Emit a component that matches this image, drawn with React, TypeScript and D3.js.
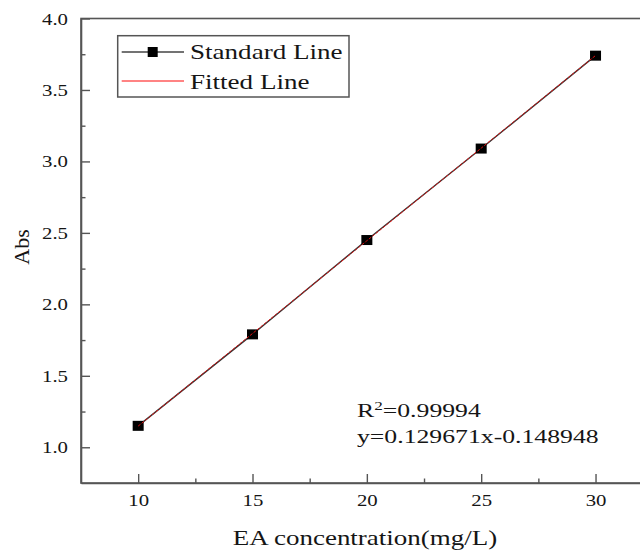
import React, { useEffect, useRef } from 'react';
import * as d3 from 'd3';

// EA concentration (mg/L) vs absorbance
const concentrations = [10, 15, 20, 25, 30];
const standardAbs = [1.15, 1.79, 2.45, 3.09, 3.74];
const fittedAbs = [1.148, 1.796, 2.445, 3.093, 3.741];

const xTicks = [10, 15, 20, 25, 30];
const xMinorTicks = [12.5, 17.5, 22.5, 27.5];
const yTicks = [1.0, 1.5, 2.0, 2.5, 3.0, 3.5, 4.0];
const yMinorTicks = [1.25, 1.75, 2.25, 2.75, 3.25, 3.75];

const legendLabels = ['Standard Line', 'Fitted Line'];
const r2Text = '=0.99994';
const equationText = 'y=0.129671x-0.148948';

const FONT = '"Liberation Serif", "Times New Roman", serif';
const AXIS_COLOR = '#555';
const TEXT_COLOR = '#151515';

const App = () => {
    const svgRef = useRef<SVGSVGElement>(null);

    useEffect(() => {
        const svg = d3.select(svgRef.current);
        svg.selectAll('*').remove();

        const width = 640;
        const height = 551;

        const x = d3.scaleLinear().domain([7.5, 32.5]).range([81, 652.7]);
        const y = d3.scaleLinear().domain([0.75, 4.0]).range([483, 18.5]);

        svg.append('rect').attr('width', width).attr('height', height).attr('fill', '#fff');

        // stretched serif text, like the original export
        const addText = (g, px, py, str, size, sx, anchor = 'start') =>
            g.append('text')
                .attr('transform', `translate(${px},${py}) scale(${sx},1)`)
                .attr('font-family', FONT)
                .attr('font-size', size)
                .attr('fill', TEXT_COLOR)
                .attr('text-anchor', anchor)
                .text(str);

        // frame
        svg.append('rect')
            .attr('x', x.range()[0])
            .attr('y', y.range()[1])
            .attr('width', x.range()[1] - x.range()[0])
            .attr('height', y.range()[0] - y.range()[1])
            .attr('fill', 'none')
            .attr('stroke', AXIS_COLOR)
            .attr('stroke-width', 1.6);

        // X axis (ticks inward)
        const xAxis = svg.append('g')
            .attr('transform', `translate(0,${y.range()[0]})`)
            .call(d3.axisBottom(x).tickValues(xTicks).tickSizeInner(-9).tickSizeOuter(0).tickFormat(d3.format('d')));
        xAxis.select('.domain').attr('stroke', AXIS_COLOR).attr('stroke-width', 1.6);
        xAxis.selectAll('line').attr('stroke', AXIS_COLOR).attr('stroke-width', 1.4);
        xAxis.selectAll('text').remove();
        xAxis.selectAll('.tick').each(function (d) {
            addText(d3.select(this), 0, 23, d3.format('d')(d), 16, 1.3, 'middle');
        });

        svg.append('g')
            .attr('transform', `translate(0,${y.range()[0]})`)
            .call(d3.axisBottom(x).tickValues(xMinorTicks).tickSizeInner(-4.5).tickSizeOuter(0).tickFormat(() => ''))
            .call(g => g.select('.domain').remove())
            .selectAll('line').attr('stroke', AXIS_COLOR).attr('stroke-width', 1.4);

        // Y axis (ticks inward)
        const yAxis = svg.append('g')
            .attr('transform', `translate(${x.range()[0]},0)`)
            .call(d3.axisLeft(y).tickValues(yTicks).tickSizeInner(-9).tickSizeOuter(0));
        yAxis.select('.domain').attr('stroke', AXIS_COLOR).attr('stroke-width', 1.6);
        yAxis.selectAll('line').attr('stroke', AXIS_COLOR).attr('stroke-width', 1.4);
        yAxis.selectAll('text').remove();
        yAxis.selectAll('.tick').each(function (d) {
            addText(d3.select(this), -13, 5.5, d3.format('.1f')(d), 16, 1.3, 'end');
        });

        svg.append('g')
            .attr('transform', `translate(${x.range()[0]},0)`)
            .call(d3.axisLeft(y).tickValues(yMinorTicks).tickSizeInner(-4.5).tickSizeOuter(0).tickFormat(() => ''))
            .call(g => g.select('.domain').remove())
            .selectAll('line').attr('stroke', AXIS_COLOR).attr('stroke-width', 1.4);

        // Axis titles
        addText(svg, 365, 545, 'EA concentration(mg/L)', 20, 1.35, 'middle');
        svg.append('text')
            .attr('transform', `translate(29,247) rotate(-90) scale(1.1,1)`)
            .attr('font-family', FONT)
            .attr('font-size', 20)
            .attr('fill', TEXT_COLOR)
            .attr('text-anchor', 'middle')
            .text('Abs');

        // Lines
        const points = concentrations.map((c, i) => [x(c), y(standardAbs[i])]);
        const fitted = concentrations.map((c, i) => [x(c), y(fittedAbs[i])]);
        const line = d3.line();

        svg.append('path')
            .attr('d', line(points))
            .attr('fill', 'none')
            .attr('stroke', '#333')
            .attr('stroke-width', 1.4);

        svg.selectAll('.marker')
            .data(points)
            .enter()
            .append('rect')
            .attr('class', 'marker')
            .attr('x', d => d[0] - 5.5)
            .attr('y', d => d[1] - 5)
            .attr('width', 11)
            .attr('height', 10)
            .attr('fill', '#000');

        svg.append('path')
            .attr('d', line(fitted))
            .attr('fill', 'none')
            .attr('stroke', '#e01010')
            .attr('stroke-width', 1)
            .attr('stroke-dasharray', '3,1.5');

        // Legend
        const legend = svg.append('g');
        legend.append('rect')
            .attr('x', 117.7).attr('y', 35.7)
            .attr('width', 231.3).attr('height', 61.3)
            .attr('fill', '#fff')
            .attr('stroke', AXIS_COLOR)
            .attr('stroke-width', 1.5);
        legend.append('line')
            .attr('x1', 121.7).attr('x2', 184).attr('y1', 52).attr('y2', 52)
            .attr('stroke', '#444').attr('stroke-width', 1.5);
        legend.append('rect')
            .attr('x', 147.7).attr('y', 47).attr('width', 10).attr('height', 10)
            .attr('fill', '#000');
        legend.append('line')
            .attr('x1', 121.7).attr('x2', 184).attr('y1', 81).attr('y2', 81)
            .attr('stroke', '#ff5a5a').attr('stroke-width', 1.5);
        addText(legend, 190, 59, legendLabels[0], 22, 1.23);
        addText(legend, 190, 89, legendLabels[1], 22, 1.23);

        // Fit annotation
        const r2 = svg.append('text')
            .attr('transform', `translate(357,417) scale(1.43,1)`)
            .attr('font-family', FONT)
            .attr('font-size', 18)
            .attr('fill', TEXT_COLOR);
        r2.append('tspan').text('R');
        r2.append('tspan').attr('font-size', 12).attr('dy', -7).text('2');
        r2.append('tspan').attr('dy', 7).text(r2Text);
        addText(svg, 357, 443, equationText, 18, 1.43);
    }, []);

    return (
        <svg
            ref={svgRef}
            width={640}
            height={551}
            style={{ position: 'absolute', left: 0, top: 0, display: 'block' }}
        />
    );
};

export default App;
